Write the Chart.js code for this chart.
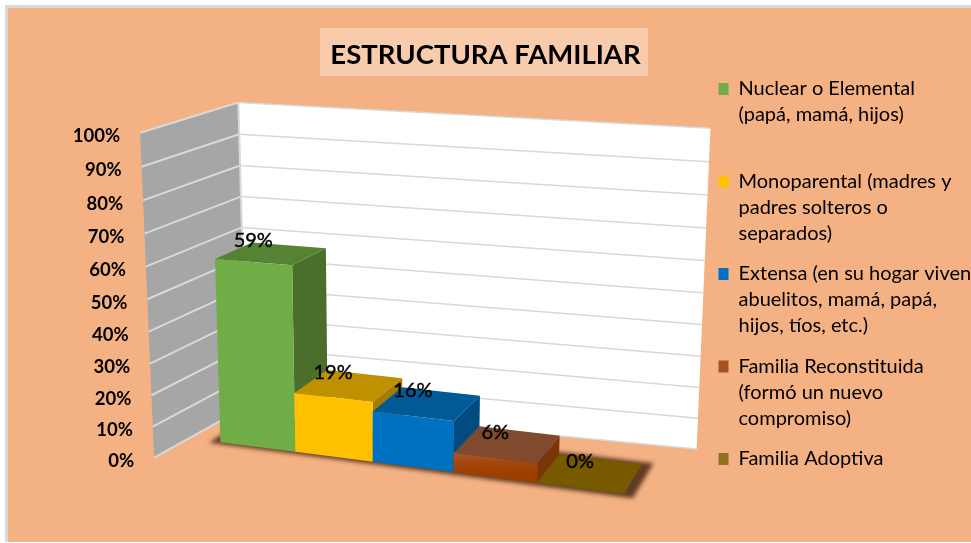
<!DOCTYPE html>
<html lang="es">
<head>
    <meta charset="UTF-8">
    <title>Estructura familiar</title>
    <style>
        body { margin: 0; background-color: #fff; }
        canvas { display: block; }
    </style>
</head>
<body>
    <canvas id="familyChart" width="971" height="543"></canvas>

    <script src="https://cdn.jsdelivr.net/npm/chart.js"></script>
    <script>
        const chartTitle = 'ESTRUCTURA FAMILIAR';
        const categories = [
            ['Nuclear o Elemental', '(papá, mamá, hijos)', ''],
            ['Monoparental (madres y', 'padres solteros o', 'separados)'],
            ['Extensa (en su hogar viven', 'abuelitos, mamá, papá,', 'hijos, tíos, etc.)'],
            ['Familia Reconstituida', '(formó un nuevo', 'compromiso)'],
            ['Familia Adoptiva', '', '']
        ];
        const values = [59, 19, 16, 6, 0];
        const frontColors = ['#70AD47', '#FFC000', '#0070C0', '#A5460F', '#7F6000'];
        const topColors = ['#568233', '#BF9000', '#005A96', '#7F4A2E', '#775A00'];
        const sideColors = ['#4A6F2C', '#A67C00', '#004B80', '#7A3606', '#5F4800'];
        const swatchColors = ['#70AD47', '#FFC000', '#0070C0', '#A5501F', '#8F7420'];

        // wall limits in bar widths and bar depths
        const wallLeft = -0.4, wallRight = 5.4, wallFront = -1.4, wallBack = 2;

        // camera calibration: u (bar widths), v (percent), d (bar depths) -> screen x, y
        const wallPoints = [
            [wallLeft, 0, wallBack, 247, 407],
            [wallLeft, 60, wallBack, 241.7, 225],
            [wallLeft, 100, wallBack, 238.3, 104],
            [wallRight, 100, wallBack, 711, 128.3],
            [wallRight, 50, wallBack, 702.7, 292.7],
            [wallRight, 0, wallBack, 696.7, 449],
            [wallLeft, 0, wallFront, 154.3, 457.3],
            [wallLeft, 50, wallFront, 147.3, 300],
            [wallLeft, 100, wallFront, 140, 132.3]
        ];
        const barPoints = [
            [0, 0, 0, 220, 441.7], [1, 0, 0, 295, 451.7], [2, 0, 0, 373.3, 461.7],
            [3, 0, 0, 453.3, 472.3], [4, 0, 0, 536.7, 482.7], [5, 0, 0, 625, 493.3],
            [5, 0, 1, 641.7, 464], [4, 6, 1, 560, 435.7], [3, 16, 1, 480, 396], [1, 59, 1, 325.7, 248.3],
            [0, 59, 0, 215, 259], [1, 59, 0, 292.3, 265], [1, 19, 0, 295, 393.3], [2, 19, 0, 372.3, 402.3],
            [2, 16, 0, 373.3, 411.7], [3, 16, 0, 453.3, 420], [3, 6, 0, 454, 453.3], [4, 6, 0, 536.7, 464]
        ];

        function fitCamera(points) {
            const rows = [], rhs = [];
            points.forEach(([u, v, d, x, y]) => {
                const w = [u / 5, v / 100, d / 2, 1], sx = x / 1000, sy = y / 1000;
                rows.push([...w, 0, 0, 0, 0, -sx * w[0], -sx * w[1], -sx * w[2]]);
                rhs.push(sx);
                rows.push([0, 0, 0, 0, ...w, -sy * w[0], -sy * w[1], -sy * w[2]]);
                rhs.push(sy);
            });
            // normal equations, then gauss with pivoting
            const n = 11;
            const m = [];
            for (let i = 0; i < n; i++) {
                m.push(new Array(n + 1).fill(0));
                rows.forEach((r, k) => {
                    for (let j = 0; j < n; j++) m[i][j] += r[i] * r[j];
                    m[i][n] += r[i] * rhs[k];
                });
            }
            for (let i = 0; i < n; i++) {
                let p = i;
                for (let k = i + 1; k < n; k++) if (Math.abs(m[k][i]) > Math.abs(m[p][i])) p = k;
                [m[i], m[p]] = [m[p], m[i]];
                for (let k = 0; k < n; k++) {
                    if (k === i) continue;
                    const f = m[k][i] / m[i][i];
                    for (let j = i; j <= n; j++) m[k][j] -= f * m[i][j];
                }
            }
            const c = m.map((r, i) => r[n] / r[i]);
            return (u, v, d) => {
                const a = u / 5, b = v / 100, e = d / 2;
                const h = c[8] * a + c[9] * b + c[10] * e + 1;
                return [
                    1000 * (c[0] * a + c[1] * b + c[2] * e + c[3]) / h,
                    1000 * (c[4] * a + c[5] * b + c[6] * e + c[7]) / h
                ];
            };
        }

        const wallView = fitCamera(wallPoints);
        const barView = fitCamera(barPoints);

        function fillPoly(ctx, pts, color) {
            ctx.beginPath();
            pts.forEach((p, i) => i ? ctx.lineTo(p[0], p[1]) : ctx.moveTo(p[0], p[1]));
            ctx.closePath();
            ctx.fillStyle = color;
            ctx.fill();
        }

        function strokeLine(ctx, a, b, color, width) {
            ctx.beginPath();
            ctx.moveTo(a[0], a[1]);
            ctx.lineTo(b[0], b[1]);
            ctx.strokeStyle = color;
            ctx.lineWidth = width;
            ctx.stroke();
        }

        const scene3d = {
            id: 'scene3d',
            beforeDraw(chart) {
                const ctx = chart.ctx;
                ctx.save();
                ctx.fillStyle = '#fff';
                ctx.fillRect(0, 0, chart.width, chart.height);
                ctx.fillStyle = '#d9d9d9';
                ctx.fillRect(5, 5, chart.width - 5, chart.height - 6);
                ctx.fillStyle = '#F4B183';
                ctx.fillRect(8, 8, chart.width - 8, chart.height - 9);
                ctx.fillStyle = '#F8CBAD';
                ctx.fillRect(320, 28, 328, 48);
                ctx.restore();
            },
            afterLayout(chart) {
                // the legend column sits right of the walls, not where the layout puts it
                const l = chart.legend;
                l.left = 704;
                l.right = chart.width;
                l.width = l.right - l.left;
                l.top = 63;
                l.bottom = chart.height;
            },
            beforeDatasetsDraw(chart) {
                const ctx = chart.ctx, yScale = chart.scales.y;
                const area = chart.chartArea;
                const cell = (area.right - area.left) / values.length;
                const toU = px => (px - area.left) / cell;
                ctx.save();

                // walls
                const leftWall = [wallView(wallLeft, 0, wallFront), wallView(wallLeft, 100, wallFront),
                    wallView(wallLeft, 100, wallBack), wallView(wallLeft, 0, wallBack)];
                fillPoly(ctx, leftWall, '#A6A6A6');
                fillPoly(ctx, [wallView(wallLeft, 0, wallBack), wallView(wallLeft, 100, wallBack),
                    wallView(wallRight, 100, wallBack), wallView(wallRight, 0, wallBack)], '#FFFFFF');

                // grid and tick labels from the y scale
                yScale.ticks.forEach(tick => {
                    const v = tick.value;
                    const front = wallView(wallLeft, v, wallFront);
                    const back = wallView(wallLeft, v, wallBack);
                    const right = wallView(wallRight, v, wallBack);
                    strokeLine(ctx, front, back, '#D9D9D9', 2);
                    strokeLine(ctx, back, right, '#D9D9D9', 1.5);
                    ctx.fillStyle = '#000';
                    ctx.font = 'bold 18.5px Lato';
                    ctx.textAlign = 'right';
                    ctx.textBaseline = 'middle';
                    ctx.fillText(tick.label, front[0] - 20, front[1] + 3.5);
                });
                strokeLine(ctx, leftWall[2], leftWall[3], '#D9D9D9', 2);

                const bars = chart.getDatasetMeta(0).data;

                // soft shadow on the floor
                ctx.save();
                ctx.filter = 'blur(2px)';
                fillPoly(ctx, [barView(-0.12, 0, -0.06), barView(5.12, 0, -0.1),
                    barView(5.12, 0, 1.08), barView(-0.12, 0, 1.08)], 'rgba(70,40,20,0.85)');
                ctx.restore();

                // left to right so every bar covers the side of the one before
                bars.forEach((bar, i) => {
                    const u0 = toU(bar.x - bar.width / 2), u1 = toU(bar.x + bar.width / 2);
                    const v = yScale.getValueForPixel(bar.y);
                    const base = yScale.getValueForPixel(bar.base);
                    fillPoly(ctx, [barView(u0, v, 0), barView(u1, v, 0), barView(u1, v, 1), barView(u0, v, 1)], topColors[i]);
                    if (v === base) return;
                    fillPoly(ctx, [barView(u1, base, 0), barView(u1, v, 0), barView(u1, v, 1), barView(u1, base, 1)], sideColors[i]);
                    let front = frontColors[i];
                    if (i === 3) {
                        const a = barView(u0, v, 0), b = barView(u0, base, 0);
                        front = ctx.createLinearGradient(0, a[1], 0, b[1]);
                        front.addColorStop(0, '#AA5A30');
                        front.addColorStop(0.5, '#A5460F');
                        front.addColorStop(1, '#9E3F00');
                    }
                    fillPoly(ctx, [barView(u0, base, 0), barView(u0, v, 0), barView(u1, v, 0), barView(u1, base, 0)], front);
                });

                // value labels, a bit closer to the bar the taller it is
                bars.forEach((bar, i) => {
                    const v = yScale.getValueForPixel(bar.y);
                    const p = barView(toU(bar.x), v, 0);
                    ctx.fillStyle = '#000';
                    ctx.strokeStyle = '#000';
                    ctx.lineWidth = 0.4;
                    ctx.font = '20px Lato';
                    ctx.textAlign = 'center';
                    ctx.textBaseline = 'middle';
                    ctx.fillText(values[i] + '%', p[0], p[1] - 26.5 + v * 0.08);
                    ctx.strokeText(values[i] + '%', p[0], p[1] - 26.5 + v * 0.08);
                });
                ctx.restore();
                return false;
            }
        };

        new Chart(document.getElementById('familyChart').getContext('2d'), {
            type: 'bar',
            data: {
                labels: categories,
                datasets: [{ data: values, backgroundColor: frontColors, categoryPercentage: 1, barPercentage: 1 }]
            },
            plugins: [scene3d],
            options: {
                responsive: false,
                animation: false,
                scales: {
                    x: { ticks: { display: false }, grid: { display: false }, border: { display: false } },
                    y: {
                        min: 0, max: 100,
                        ticks: { display: false, stepSize: 10, callback: v => v + '%' },
                        grid: { display: false }, border: { display: false }
                    }
                },
                plugins: {
                    tooltip: { enabled: false },
                    title: {
                        display: true,
                        text: chartTitle,
                        color: '#000',
                        font: { family: 'Lato', size: 27.5, weight: 'bold', lineHeight: 1.2 },
                        padding: { top: 39, bottom: 10 }
                    },
                    legend: {
                        position: 'right',
                        labels: {
                            color: '#111',
                            boxWidth: 10,
                            boxHeight: 12,
                            padding: 14.5,
                            font: { family: 'Lato', size: 20, lineHeight: 1.3 },
                            generateLabels: () => categories.map((text, i) => ({
                                text, fillStyle: swatchColors[i], strokeStyle: swatchColors[i], lineWidth: 0, index: i
                            }))
                        }
                    }
                }
            }
        });
    </script>
</body>
</html>
